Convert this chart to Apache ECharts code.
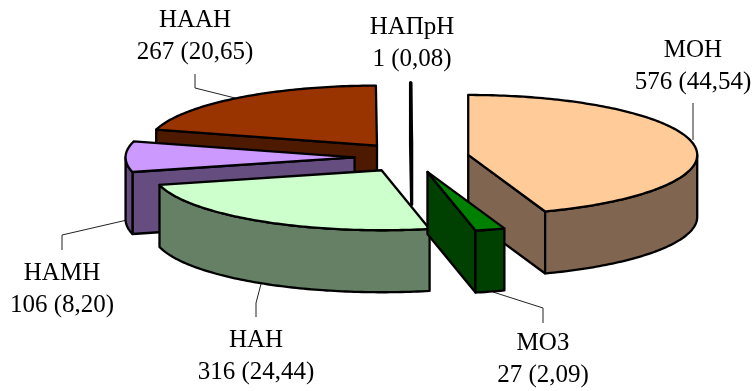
<!DOCTYPE html>
<html>
<head>
<meta charset="utf-8">
<style>html,body{margin:0;padding:0;background:#fff}#c{width:753px;height:391px}</style>
<script src="https://cdn.jsdelivr.net/npm/echarts@6/dist/echarts.min.js"></script>
</head>
<body>
<div id="c"></div>
<script>
// --- data (clockwise from 12 o'clock) ---
var categories = ['МОН', 'МОЗ', 'НАН', 'НАМН', 'НААН', 'НАПрН'];
var counts = [576, 27, 316, 106, 267, 1];
var percentLabels = ['44,54', '2,09', '24,44', '8,20', '20,65', '0,08'];

// --- styles ---
var topColors = ['#FFCC99', '#008000', '#CCFFCC', '#CC99FF', '#993300', '#000000'];
var wallColors = ['#806650', '#004000', '#668066', '#664D80', '#4D1A00', '#000000'];

// --- layout ---
var pie = {cx: 411.8, cy: 157.5, rx: 229, ry: 60, depth: 62, explode: 0.25};
var labelCenters = [[693, 66], [543, 359], [256, 356], [62, 289], [195, 36.5], [412, 43]];
var leaders = [
  [[693, 103], [693, 140]],
  [[543, 323], [543, 308], [493, 292]],
  [[256, 317], [256, 303], [261, 284]],
  [[62, 250], [62, 235], [127, 220]],
  [[195, 74], [195, 88], [235, 98]],
  null
];
var depthOrder = [5, 4, 0, 3, 2, 1]; // back to front

var total = counts.reduce(function (a, b) { return a + b; }, 0);
var rad = Math.PI / 180;

function rimPoint(c, deg, drop) {
  return [c[0] + pie.rx * Math.sin(deg * rad), c[1] - pie.ry * Math.cos(deg * rad) + (drop || 0)];
}
function arc(c, from, to, drop) {
  var pts = [], step = 1, d = from;
  while (d < to) { pts.push(rimPoint(c, d, drop)); d += step; }
  pts.push(rimPoint(c, to, drop));
  return pts;
}
function face(points, fill, z2, width) {
  return {
    type: 'polygon', z2: z2,
    shape: {points: points},
    style: {fill: fill, stroke: '#000', lineWidth: width, lineJoin: 'round'}
  };
}
function cutWall(c, deg, fill, z2, width) {
  var rim = rimPoint(c, deg), d = pie.depth;
  return face([c, rim, [rim[0], rim[1] + d], [c[0], c[1] + d]], fill, z2, width);
}

function renderSlice(params, api) {
  var i = params.dataIndex;
  var before = 0;
  for (var k = 0; k < i; k++) before += counts[k];
  var a0 = before / total * 360;
  var a1 = (before + api.value(0)) / total * 360;
  var mid = (a0 + a1) / 2;
  var c = [
    pie.cx + pie.explode * pie.rx * Math.sin(mid * rad),
    pie.cy - pie.explode * pie.ry * Math.cos(mid * rad)
  ];
  var rank = depthOrder.indexOf(i) * 10 + 10;
  var kids = [];
  var wall = wallColors[i];
  var sliver = (a1 - a0) < 1;
  var width = sliver ? 1.6 : 2.3;
  var wallWidth = sliver ? 3.2 : 2.3;

  if (Math.cos((a0 - 90) * rad) < -1e-9) kids.push(cutWall(c, a0, wall, rank, wallWidth));
  if (Math.cos((a1 + 90) * rad) < -1e-9) kids.push(cutWall(c, a1, wall, rank, wallWidth));

  var w0 = Math.max(a0, 90), w1 = Math.min(a1, 270);
  if (w0 < w1) {
    kids.push(face(arc(c, w0, w1, 0).concat(arc(c, w0, w1, pie.depth).reverse()), wall, rank + 1, wallWidth));
  }
  kids.push(face([c].concat(arc(c, a0, a1, 0)), topColors[i], rank + 2, width));

  if (leaders[i]) {
    kids.push({
      type: 'polyline', z2: 1,
      shape: {points: leaders[i]},
      style: {fill: null, stroke: '#222', lineWidth: 1}
    });
  }
  kids.push({
    type: 'text', z2: 200,
    style: {
      x: labelCenters[i][0], y: labelCenters[i][1],
      text: categories[i] + '\n' + api.value(0) + ' (' + percentLabels[i] + ')',
      font: '25px "Liberation Serif"',
      lineHeight: 32,
      fill: '#000', align: 'center', verticalAlign: 'middle'
    }
  });
  return {type: 'group', children: kids};
}

var chart = echarts.init(document.getElementById('c'), null, {renderer: 'canvas'});
chart.setOption({
  backgroundColor: '#fff',
  animation: false,
  series: [{
    type: 'custom',
    coordinateSystem: 'none',
    renderItem: renderSlice,
    silent: true,
    data: counts.map(function (v, i) { return {name: categories[i], value: [v]}; })
  }]
});
</script>
</body>
</html>
